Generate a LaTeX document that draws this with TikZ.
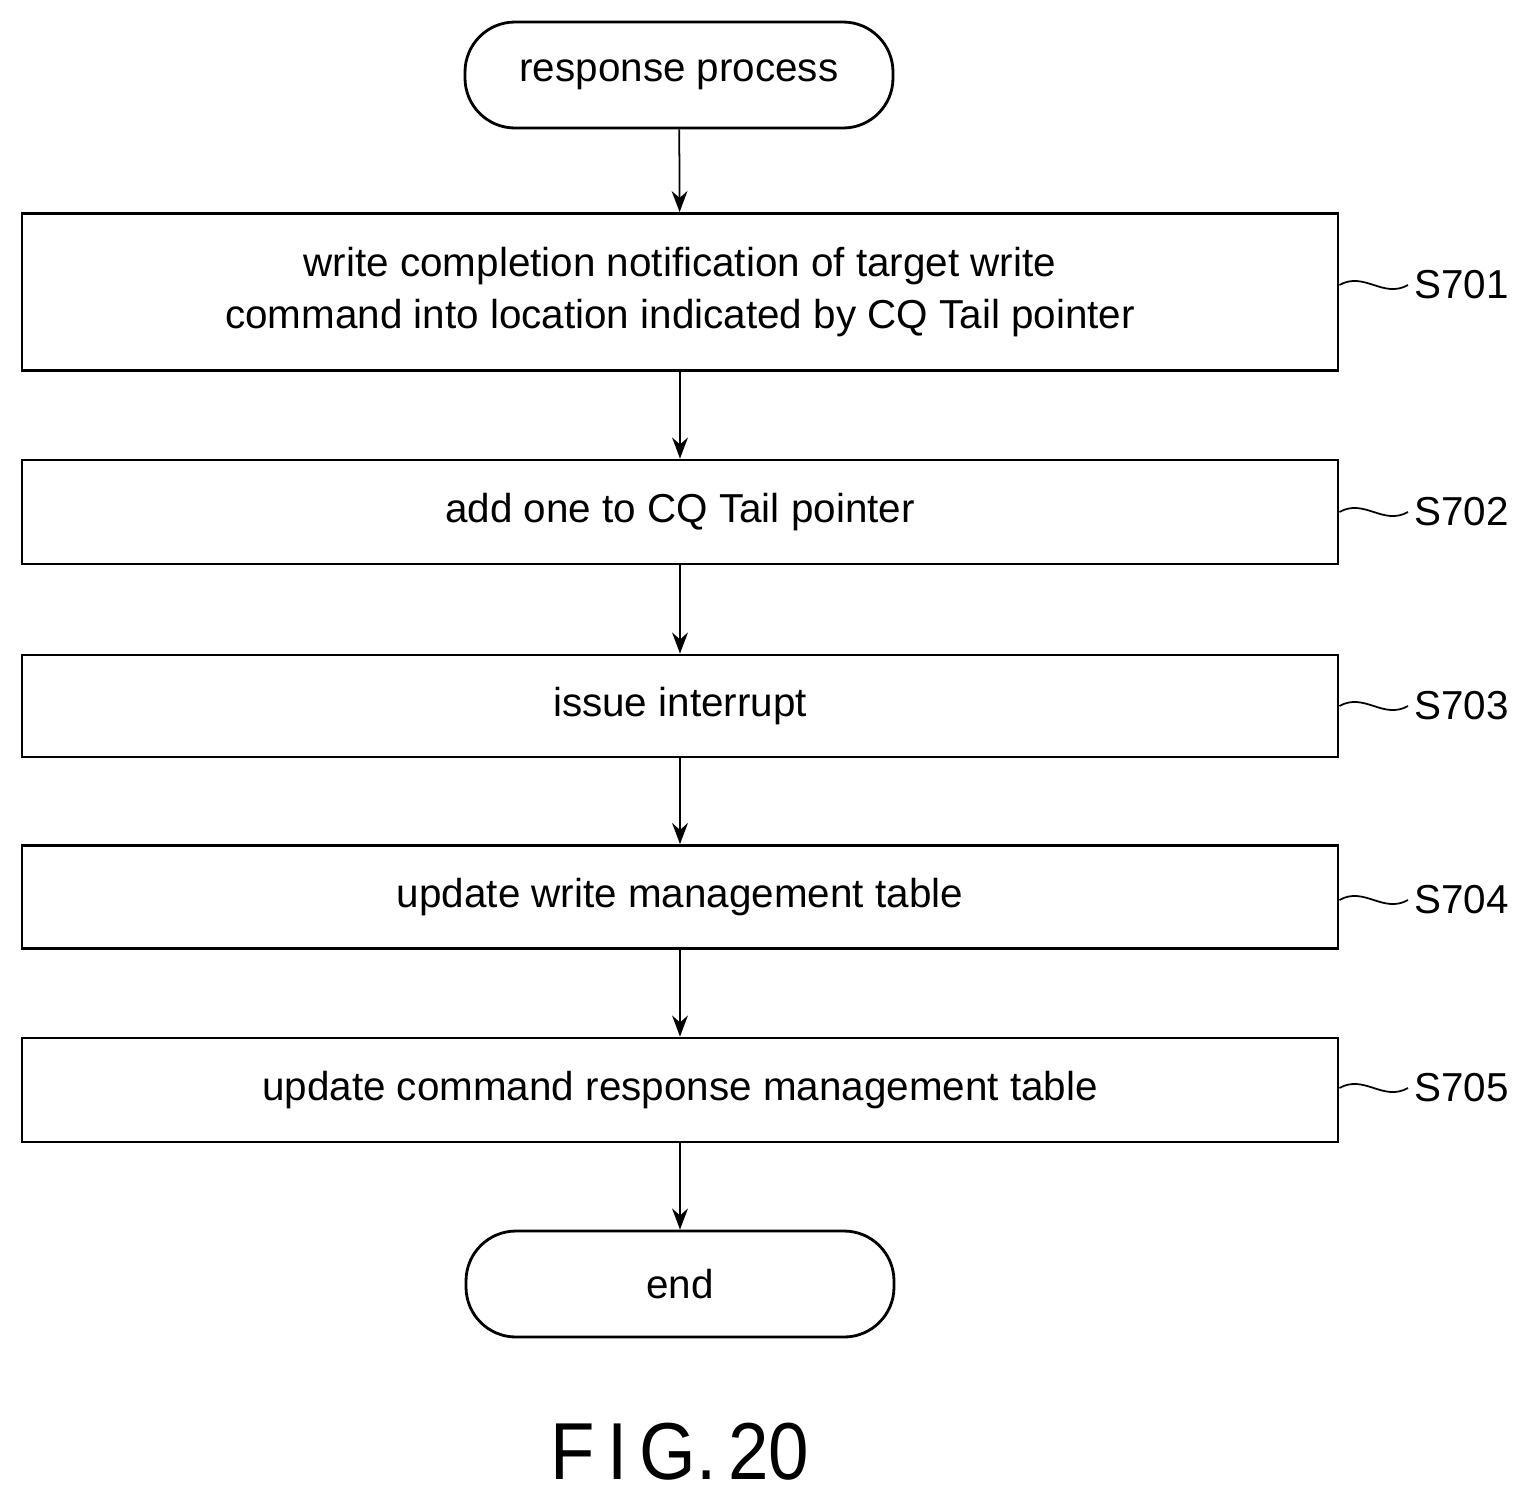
\documentclass[tikz,border=0pt]{standalone}
\usepackage{fontspec}
\setmainfont{Liberation Sans}
\usetikzlibrary{arrows.meta}
\begin{document}
\begin{tikzpicture}[
              x=0.02cm,y=-0.02cm,
              box/.style={
                  draw,
                  line width=1.6pt,
                  minimum width=1316*0.02cm,
                  align=center,
                  font=\fontsize{23}{30}\selectfont,
                },
              term/.style={
                  draw,
                  line width=1.6pt,
                  rounded corners=1cm,
                  minimum width=428*0.02cm,
                  minimum height=106*0.02cm,
                  font=\fontsize{23}{30}\selectfont,
                },
              tag/.style={anchor=west,font=\fontsize{23}{30}\selectfont},
              flow/.style={line width=1pt,-{Stealth[length=12pt,width=9pt]}}
            ]
            \useasboundingbox (0,0) rectangle (1532,1509);
            \node[term] (start) at (679,75) {response process};
            \node[box,minimum height=157*0.02cm] (s1) at (680,292)
              {write completion notification of target write\\command into location indicated by CQ Tail pointer};
            \node[box,minimum height=104*0.02cm] (s2) at (680,512) {add one to CQ Tail pointer};
            \node[box,minimum height=102*0.02cm] (s3) at (680,706) {issue interrupt};
            \node[box,minimum height=103*0.02cm] (s4) at (680,897) {update write management table};
            \node[box,minimum height=104*0.02cm] (s5) at (680,1090) {update command response management table};
            \node[term] (end) at (680,1284) {end};
            \foreach \Value/\Y in {1/285,2/512,3/706,4/900,5/1088}
            {
              \node[tag] (l\Value) at (1408,\Y) {S70\Value};
              \draw[line width=1pt] (s\Value.east |- l\Value) .. controls +(25,-14) and +(-25,14) .. (l\Value.west);
            }
            \draw[flow] (start) -- (s1);
            \foreach \A/\B in {s1/s2,s2/s3,s3/s4,s4/s5,s5/end}
            \draw[flow] (\A) -- (\B);
            \node[font=\fontsize{46}{52}\selectfont,xscale=0.9] (fig) at (680,1452) {F\,I\,G.\,20};
          \end{tikzpicture}
\end{document}
